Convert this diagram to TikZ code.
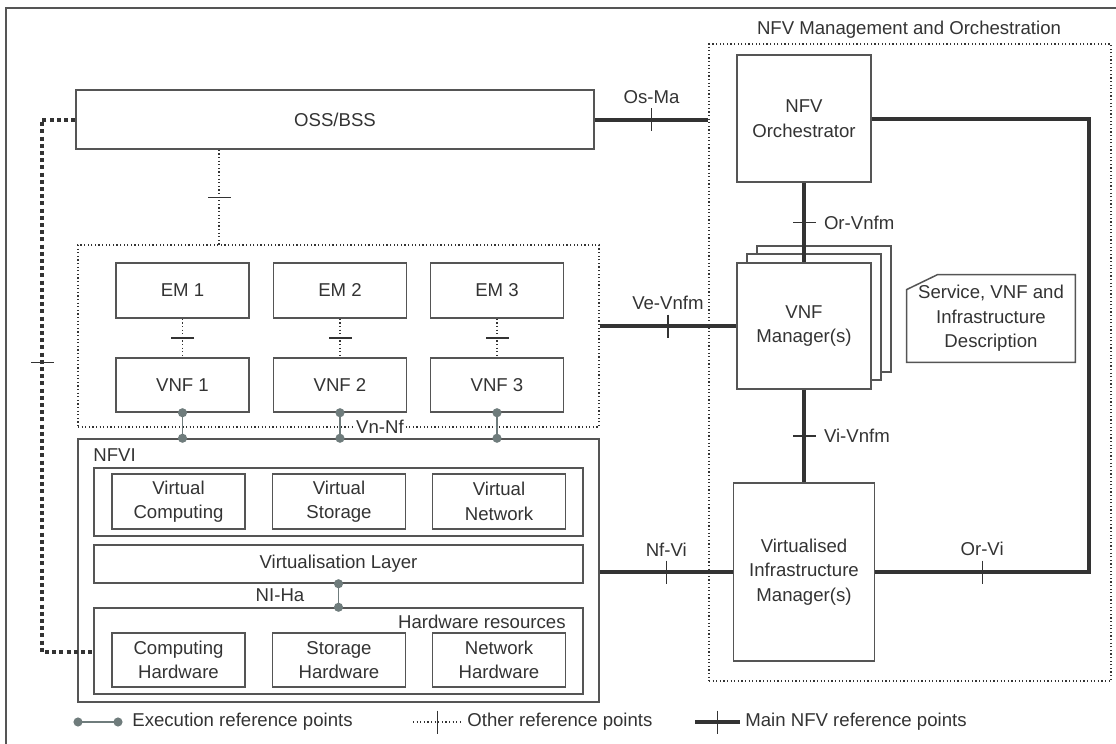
\documentclass[tikz,border=0pt]{standalone}
\usepackage{fontspec}
\setmainfont{Liberation Sans}
\usetikzlibrary{positioning, arrows.meta, decorations.markings}

\definecolor{inkgray}{HTML}{333333}
\definecolor{boxgray}{HTML}{555555}
\definecolor{execgray}{HTML}{6F7C7C}

\tikzset{
  box/.style={draw=boxgray, line width=0.75pt, fill=white, align=center, inner sep=0pt, text=inkgray},
  grp/.style={draw=boxgray, line width=0.75pt, inner sep=0pt},
  dotgrp/.style={draw=inkgray, line width=0.6pt, dash pattern=on 0.6pt off 1.2pt, inner sep=0pt},
  lbl/.style={text=inkgray, inner sep=0pt},
  mainref/.style={draw=inkgray, line width=2pt},
  otherref/.style={draw=inkgray, line width=0.6pt, dash pattern=on 0.6pt off 1.2pt},
  otherthick/.style={draw=inkgray, line width=2pt, dash pattern=on 2pt off 1.6pt},
  execref/.style={draw=execgray, line width=0.8pt, {Circle[length=4.5pt]}-{Circle[length=4.5pt]},
    shorten <=-2.25pt, shorten >=-2.25pt},
  refmark/.style={postaction={decorate, decoration={markings, mark=at position #1 with
    {\draw[solid, draw=inkgray, line width=0.7pt] (0,-11.5) -- (0,11.5);}}}},
  refmark/.default=0.5
}

\begin{document}
\begin{tikzpicture}[x=0.5pt, y=-0.5pt, font=\fontsize{9.3}{12.3}\selectfont]
  \useasboundingbox (0,0) rectangle (1116,744);
  \draw[boxgray, line width=0.75pt] (6,744) -- (6,8) -- (1116,8);

  % MANO
  \node[dotgrp, minimum width=201pt, minimum height=318.5pt] (mano) at (910,362.5) {};
  \node[lbl] (manotitle) at (909,30) {NFV Management and Orchestration};
  \node[box, minimum width=67pt, minimum height=63.5pt] (orch) at (804,118.5) {NFV\\Orchestrator};
  \node[box, minimum width=67pt, minimum height=63pt] (vnfm3) at (824,309) {};
  \node[box, minimum width=67pt, minimum height=63pt] (vnfm2) at (814,317) {};
  \node[box, minimum width=67pt, minimum height=63pt] (vnfm) at (804,326) {VNF\\Manager(s)};
  \node[box, minimum width=70.5pt, minimum height=89pt] (vim) at (804,572) {Virtualised\\Infrastructure\\Manager(s)};
  \node[lbl, align=center, minimum width=84pt, minimum height=43.5pt] (desc) at (991,318.5)
    {Service, VNF and\\Infrastructure\\Description};
  \draw[boxgray, line width=0.75pt] ([yshift=-7.5pt]desc.north west) -- ([xshift=15.5pt]desc.north west)
    -- (desc.north east) -- (desc.south east) -- (desc.south west) -- cycle;

  % OSS/BSS and VNFs
  \node[box, minimum width=259pt, minimum height=29.5pt] (oss) at (335,119.5) {OSS/BSS};
  \node[dotgrp, minimum width=260.5pt, minimum height=91pt] (vnfgrp) at (338.5,336) {};
  \node[box, minimum width=66.5pt, minimum height=27.5pt] (em1) at (182.5,290.5) {EM 1};
  \node[box, minimum width=66.5pt, minimum height=27.5pt] (em2) at (340,290.5) {EM 2};
  \node[box, minimum width=66.5pt, minimum height=27.5pt] (em3) at (497,290.5) {EM 3};
  \node[box, minimum width=66.5pt, minimum height=27pt] (vnf1) at (182.5,385) {VNF 1};
  \node[box, minimum width=66.5pt, minimum height=27pt] (vnf2) at (340,385) {VNF 2};
  \node[box, minimum width=66.5pt, minimum height=27pt] (vnf3) at (497,385) {VNF 3};

  % NFVI
  \node[grp, minimum width=260.5pt, minimum height=131.5pt] (nfvi) at (338.5,570.5) {};
  \node[lbl, anchor=west] (nfvilbl) at (93,455) {NFVI};
  \node[grp, minimum width=244.5pt, minimum height=34pt] (virtgrp) at (338.5,502) {};
  \node[box, minimum width=66.5pt, minimum height=27.5pt] (vcomp) at (178.5,501.5) {Virtual\\Computing};
  \node[box, minimum width=66.5pt, minimum height=27.5pt] (vstor) at (339,501.5) {Virtual\\Storage};
  \node[box, minimum width=66.5pt, minimum height=27.5pt] (vnet) at (499,501.5) {Virtual\\Network};
  \node[box, minimum width=244.5pt, minimum height=19pt] (vlayer) at (338.5,564) {Virtualisation Layer};
  \node[grp, minimum width=244.5pt, minimum height=43pt] (hw) at (338.5,651) {};
  \node[lbl, anchor=east] (hwlbl) at (566,622) {Hardware resources};
  \node[box, minimum width=66.5pt, minimum height=27pt] (chw) at (178.5,660) {Computing\\Hardware};
  \node[box, minimum width=66.5pt, minimum height=27pt] (shw) at (339,660) {Storage\\Hardware};
  \node[box, minimum width=66.5pt, minimum height=27pt] (nhw) at (499,660) {Network\\Hardware};

  % main reference points
  \draw[mainref, refmark] (oss.east) -- node[lbl, above=7pt] {Os-Ma} (oss.east -| mano.west);
  \draw[mainref, refmark] (orch) -- node[lbl, right=9pt] {Or-Vnfm} (vnfm);
  \draw[mainref, refmark] (vnfm) -- node[lbl, right=9pt] {Vi-Vnfm} (vim);
  \draw[mainref, refmark] (vnfgrp.east |- vnfm.west) -- node[lbl, above=7pt] {Ve-Vnfm} (vnfm.west);
  \draw[mainref, refmark] (nfvi.east |- vim.west) -- node[lbl, above=7pt] {Nf-Vi} (vim.west);
  \coordinate (orvi) at (1089,572);
  \draw[mainref, refmark=53.75pt] (vim.east) -- node[lbl, above=7pt] {Or-Vi} (orvi) |- (orch.east);

  % other reference points
  \coordinate (ossdown) at (219,245);
  \draw[otherref, refmark] (ossdown |- oss.south) -- (ossdown);
  \draw[otherref, refmark] (em1) -- (vnf1);
  \draw[otherref, refmark] (em2) -- (vnf2);
  \draw[otherref, refmark] (em3) -- (vnf3);
  \coordinate (lefttop) at (42,119.5);
  \coordinate (leftbot) at (42,652);
  \draw[otherthick, refmark=138.25pt] (oss.west) -- (lefttop) -- (leftbot) -- (leftbot -| hw.west);

  % execution reference points
  \draw[execref] (vnf1.south) -- (vnf1.south |- nfvi.north);
  \draw[execref] (vnf2.south) -- (vnf2.south |- nfvi.north);
  \draw[execref] (vnf3.south) -- (vnf3.south |- nfvi.north);
  \node[lbl, fill=white, inner sep=1pt] (vnnf) at (380,427) {Vn-Nf};
  \draw[execref] (vlayer.south) -- (hw.north);
  \node[lbl] (niha) at (280,595) {NI-Ha};

  % legend
  \coordinate (execa) at (78,722);
  \coordinate (execb) at (118,722);
  \draw[execref] (execa) -- (execb);
  \node[lbl, right=7pt of execb] (execlbl) {Execution reference points};
  \coordinate (othera) at (413,722);
  \coordinate (otherb) at (462,722);
  \draw[otherref, refmark] (othera) -- (otherb);
  \node[lbl, right=2.5pt of otherb] (otherlbl) {Other reference points};
  \coordinate (maina) at (695,722);
  \coordinate (mainb) at (740,722);
  \draw[mainref, refmark] (maina) -- (mainb);
  \node[lbl, right=2.5pt of mainb] (mainlbl) {Main NFV reference points};
\end{tikzpicture}
\end{document}
